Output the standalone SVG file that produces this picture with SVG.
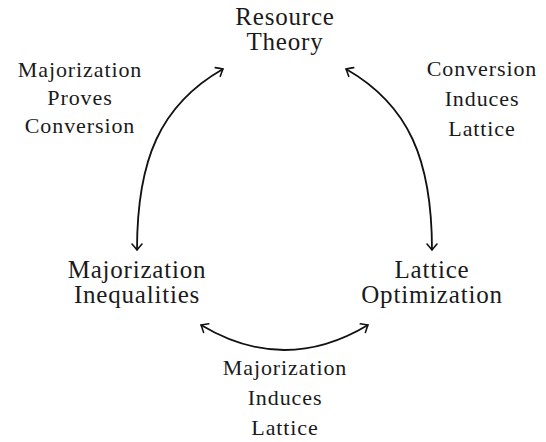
<svg xmlns="http://www.w3.org/2000/svg" width="546" height="442" viewBox="0 0 546 442">
<style>
text{font-family:"Liberation Serif","Times New Roman",serif;fill:#1a1a1a;text-anchor:middle}
.node{font-size:25px;letter-spacing:0.8px}
.lbl{font-size:22px;letter-spacing:0.9px}
.arc{fill:none;stroke:#111;stroke-width:1.8;marker-start:url(#tip);marker-end:url(#tip)}
</style>
<defs>
<marker id="tip" markerUnits="userSpaceOnUse" viewBox="-8 -6 10 12" refX="0" refY="0" markerWidth="10" markerHeight="12" orient="auto-start-reverse" overflow="visible">
<path d="M-6,-5 Q-2,-1.5 0,0 Q-2,1.5 -6,5" fill="none" stroke="#111" stroke-width="1.6" stroke-linecap="round"/>
</marker>
</defs>
<rect width="546" height="442" fill="#fff"/>
<g id="connectors">
<path class="arc" d="M137,250 C137,160 160,105 223,69"/>
<path class="arc" d="M432,250 C432,160 409,105 346,69"/>
<path class="arc" d="M201,325 Q284.5,375 368,325"/>
</g>
<g id="resource-theory"><text class="node" x="285" y="25">Resource</text><text class="node" x="285" y="50">Theory</text></g>
<g id="majorization-inequalities"><text class="node" x="137" y="278">Majorization</text><text class="node" x="137" y="303">Inequalities</text></g>
<g id="lattice-optimization"><text class="node" x="432" y="278">Lattice</text><text class="node" x="432" y="303">Optimization</text></g>
<g id="label-left"><text class="lbl" x="80" y="77">Majorization</text><text class="lbl" x="80" y="105">Proves</text><text class="lbl" x="80" y="133">Conversion</text></g>
<g id="label-right"><text class="lbl" x="482" y="76">Conversion</text><text class="lbl" x="482" y="106">Induces</text><text class="lbl" x="482" y="136">Lattice</text></g>
<g id="label-bottom"><text class="lbl" x="285" y="375">Majorization</text><text class="lbl" x="285" y="405">Induces</text><text class="lbl" x="285" y="435">Lattice</text></g>
</svg>
